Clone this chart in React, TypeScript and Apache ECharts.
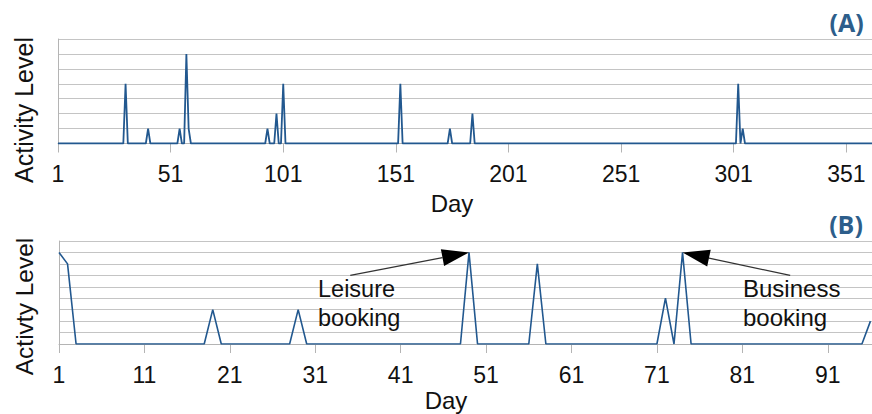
import React, { useEffect, useRef } from 'react';
import * as echarts from 'echarts';

// (A) whole year
const yearDays = [1, 30, 31, 32, 40, 41, 42, 54, 55, 56, 57, 58, 59, 60, 93, 94, 95, 97, 98, 99, 100, 101, 102, 152, 153, 154, 174, 175, 176, 184, 185, 186, 302, 303, 304, 305, 306, 365];
const yearLevels = [0, 0, 4, 0, 0, 1, 0, 0, 1, 0, 0, 6, 1, 0, 0, 1, 0, 0, 2, 0, 0, 4, 0, 0, 4, 0, 0, 1, 0, 0, 2, 0, 0, 4, 0, 1, 0, 0];
const yearTicks = [1, 51, 101, 151, 201, 251, 301, 351];

// (B) first ~100 days
const zoomDays = [1, 2, 3, 18, 19, 20, 28, 29, 30, 48, 49, 50, 56, 57, 58, 71, 72, 73, 74, 75, 95, 96];
const zoomLevels = [8, 7, 0, 0, 3, 0, 0, 3, 0, 0, 8, 0, 0, 7, 0, 0, 4, 0, 8, 0, 0, 2];
const zoomTicks = [1, 11, 21, 31, 41, 51, 61, 71, 81, 91];

// annotation arrows: start (day, level) -> end (day, level)
const leisureStart = [35.1, 6.0];
const leisureEnd = [49, 8];
const businessStart = [86.6, 6.0];
const businessEnd = [74, 8];

const FONT = '"Liberation Sans", Arial, sans-serif';
const LINE = '#22588f';
const GRID = '#c4c4c4';
const AXIS = '#b4b4b4';
const TITLE = '#2d5e8b';

export default function App() {
  const ref = useRef<HTMLDivElement>(null);
  useEffect(() => {
    document.body.style.margin = '0';
    const chart = echarts.init(ref.current!, null, { renderer: 'svg' });
    const xAxisCommon = (min: number, max: number, interval: number, ticks: number[]) => ({
      type: 'value',
      min,
      max,
      interval,
      axisLine: { show: true, lineStyle: { color: AXIS, width: 1 } },
      axisTick: { show: true, length: 9, lineStyle: { color: AXIS, width: 1 } },
      splitLine: { show: false },
      axisLabel: {
        show: true,
        margin: 19,
        fontSize: 23,
        color: '#111',
        fontFamily: FONT,
        showMaxLabel: false,
        formatter: (v: number) => (ticks.indexOf(Math.round(v)) >= 0 && Math.abs(v - Math.round(v)) < 1e-6 ? String(Math.round(v)) : ''),
      },
    });
    const yAxisCommon = (max: number) => ({
      type: 'value',
      min: 0,
      max,
      interval: 1,
      axisLine: { show: true, lineStyle: { color: AXIS, width: 1 } },
      axisTick: { show: false },
      axisLabel: { show: false },
      splitLine: { show: true, lineStyle: { color: GRID, width: 1 } },
    });
    chart.setOption({
      animation: false,
      grid: [
        { left: 58, top: 39, right: 0, height: 104.5 },
        { left: 59, top: 241, right: 0, height: 103 },
      ],
      xAxis: [
        { gridIndex: 0, ...xAxisCommon(1, 362.4, 50, yearTicks) },
        { gridIndex: 1, ...xAxisCommon(1, 96.18, 10, zoomTicks) },
      ],
      yAxis: [
        { gridIndex: 0, ...yAxisCommon(7) },
        { gridIndex: 1, ...yAxisCommon(9) },
      ],
      series: [
        {
          type: 'line',
          xAxisIndex: 0,
          yAxisIndex: 0,
          data: yearDays.map((d, i) => [d, yearLevels[i]]),
          symbol: 'none',
          clip: true,
          lineStyle: { color: LINE, width: 1.8 },
        },
        {
          type: 'line',
          xAxisIndex: 1,
          yAxisIndex: 1,
          data: zoomDays.map((d, i) => [d, zoomLevels[i]]),
          symbol: 'none',
          clip: true,
          lineStyle: { color: LINE, width: 1.6 },
        },
      ],
    });

    const txt = (text: string, x: number, y: number, size: number, extra: any = {}) => ({
      type: 'text',
      x,
      y,
      ...extra,
      style: {
        text,
        fontSize: size,
        fontFamily: FONT,
        fill: '#111',
        ...(extra.style || {}),
      },
    });

    const arrow = (s: number[], e: number[]) => {
      const p0 = chart.convertToPixel({ gridIndex: 1 }, s) as number[];
      const p1 = chart.convertToPixel({ gridIndex: 1 }, e) as number[];
      const dx = p1[0] - p0[0];
      const dy = p1[1] - p0[1];
      const len = Math.sqrt(dx * dx + dy * dy);
      const ux = dx / len;
      const uy = dy / len;
      const headLen = 27;
      const half = 8.5;
      const bx = p1[0] - ux * headLen;
      const by = p1[1] - uy * headLen;
      return [
        { type: 'line', shape: { x1: p0[0], y1: p0[1], x2: bx, y2: by }, style: { stroke: '#333', lineWidth: 1.2 }, z: 100 },
        {
          type: 'polygon',
          shape: { points: [[p1[0], p1[1]], [bx - uy * half, by + ux * half], [bx + uy * half, by - ux * half]] },
          style: { fill: '#000' },
          z: 100,
        },
      ];
    };

    const center = { align: 'center', verticalAlign: 'middle', textAlign: 'center', textVerticalAlign: 'middle' };
    const titleStyle = { ...center, fill: TITLE, fontWeight: 'bold', fontFamily: '"Open Sans", "Noto Sans", sans-serif' };
    const noteStyle = { align: 'left', verticalAlign: 'top', textAlign: 'left', textVerticalAlign: 'top', lineHeight: 29 };

    chart.setOption({
      graphic: [
        txt('Activity Level', 24, 110, 25, { rotation: Math.PI / 2, style: center }),
        txt('Activty Level', 24, 306.5, 24.5, { rotation: Math.PI / 2, style: center }),
        txt('Day', 452, 191, 24, { style: { align: 'center', verticalAlign: 'top', textAlign: 'center', textVerticalAlign: 'top' } }),
        txt('Day', 446, 388, 24, { style: { align: 'center', verticalAlign: 'top', textAlign: 'center', textVerticalAlign: 'top' } }),
        txt('(A)', 846.5, 21.5, 25, { style: titleStyle }),
        txt('(B)', 846, 223.5, 25, { style: titleStyle }),
        txt('Leisure\nbooking', 318, 274, 23.5, { style: noteStyle }),
        txt('Business\nbooking', 743, 274, 24, { style: noteStyle }),
        ...arrow(leisureStart, leisureEnd),
        ...arrow(businessStart, businessEnd),
      ],
    });
    return () => chart.dispose();
  }, []);
  return <div ref={ref} style={{ width: 872, height: 414 }} />;
}
